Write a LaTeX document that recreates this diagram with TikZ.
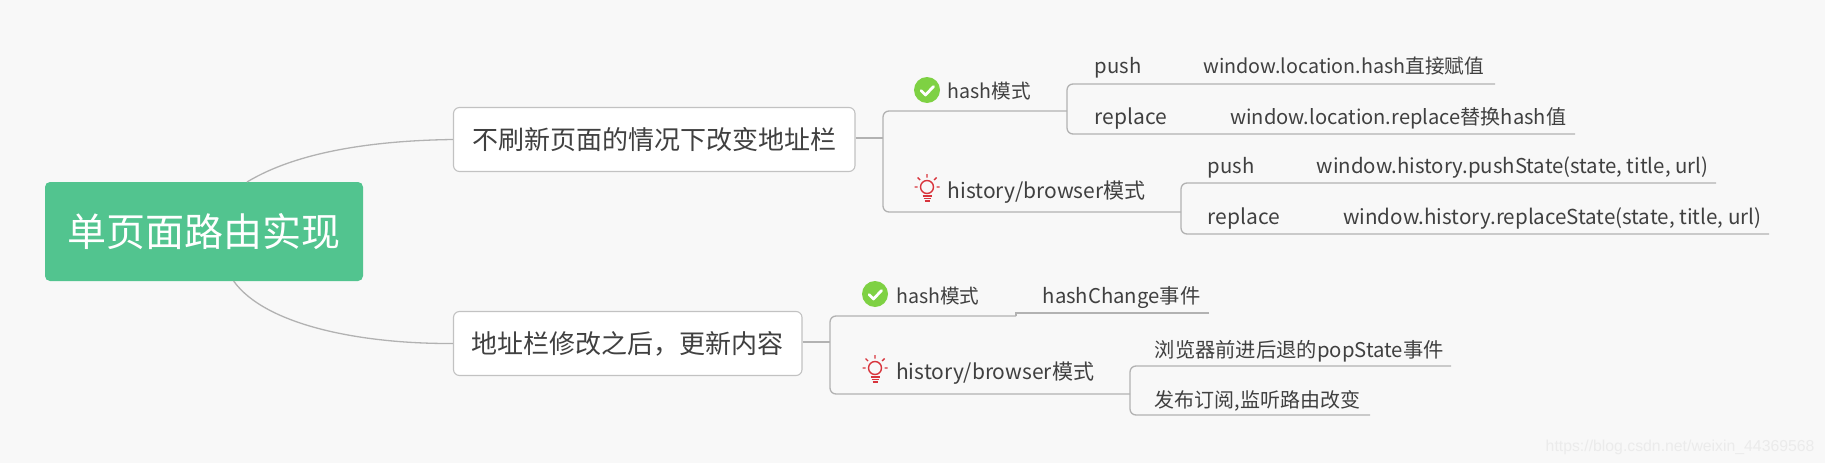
\documentclass[tikz,border=0pt]{standalone}
\usepackage{fontspec}
\setmainfont{Noto Sans CJK SC}
\newfontfamily\wmfont{Liberation Sans}
\definecolor{bgc}{HTML}{F8F8F8}
\definecolor{linec}{HTML}{B2B2B2}
\definecolor{boxc}{HTML}{C2C2C2}
\definecolor{rootc}{HTML}{52C48F}
\definecolor{txtc}{HTML}{404040}
\definecolor{okc}{HTML}{7ED143}
\definecolor{bulbc}{HTML}{D8343C}
\definecolor{wmc}{HTML}{EBEBEB}
\tikzset{
  rootbox/.style={fill=rootc,rounded corners=5pt,inner sep=0pt,text=white,font=\fontsize{39}{44}\selectfont},
  topicbox/.style={draw=boxc,line width=1.1pt,fill=white,rounded corners=6pt,inner sep=0pt,text=txtc,font=\fontsize{26}{30}\selectfont},
  lbl/.style={anchor=base west,inner sep=0pt,text=txtc,font=\fontsize{#1}{24}\selectfont},
  lbl/.default=20,
  conn/.style={draw=linec,line width=1.3pt},
  bracket/.style={conn,rounded corners=6pt},
  okicon/.pic={
    \fill[okc] (0,0) circle (13);
    \draw[white,line width=2.8pt,line cap=round,line join=round] (-6,0.5) -- (-1.5,5) -- (6.5,-3.5);
  },
  bulbicon/.pic={
    \draw[bulbc,line width=1.4pt] (0,0) circle (6.5);
    \draw[bulbc,line width=1.4pt] (0,-9.5) -- (0,-13) (-7,-7) -- (-9.5,-9.5) (7,-7) -- (9.5,-9.5) (-9.5,0) -- (-12.5,0) (9.5,0) -- (12.5,0);
    \draw[bulbc,line width=1.3pt] (-4.5,9) -- (4.5,9) (-3.5,11.5) -- (3.5,11.5) (-2.5,14) -- (2.5,14);
  }
}
\begin{document}
\begin{tikzpicture}[x=1pt,y=-1pt]
\useasboundingbox (0,0) rectangle (1825,463);
\fill[bgc] (0,0) rectangle (1825,463);
\clip (0,0) rectangle (1825,463);

\node[anchor=base west,inner sep=0pt,text=wmc,font=\wmfont\fontsize{15.8}{18}\selectfont] (wm) at (1545.5,451) {https://blog.csdn.net/weixin\_44369568};

\node[rootbox,minimum width=318pt,minimum height=99pt] (root) at (204,231.5) {单页面路由实现};
\node[topicbox,minimum width=401.5pt,minimum height=64pt] (t1) at (654.25,139.5) {不刷新页面的情况下改变地址栏};
\node[topicbox,minimum width=348.5pt,minimum height=64pt] (t2) at (627.75,343.5) {地址栏修改之后，更新内容};

\coordinate (rt) at (247,182);
\coordinate (rb) at (233.6,281);
\draw[conn] (rt) .. controls (300,150) and (380,140.5) .. (t1.west);
\draw[conn] (rb) .. controls (265,325) and (360,344) .. (t2.west);

% upper branch
\coordinate (a0) at (883,138);
\coordinate (a1) at (883,111);
\coordinate (a2) at (883,212);
\coordinate (h1) at (1067,111);
\coordinate (h2) at (1181,212);
\draw[conn] (t1.east |- a0) -- (a0);
\draw[bracket] (h1) -- (a1) -- (a2) -- (h2);

\pic at (927,90) {okicon};
\node[lbl=19.6] (n1) at (947.5,98) {hash模式};
\pic at (927,187) {bulbicon};
\node[lbl=21] (n2) at (947.5,198) {history/browser模式};

\coordinate (h1t) at (1067,84);
\coordinate (h1b) at (1067,134);
\coordinate (e1) at (1495,84);
\coordinate (e2) at (1575,134);
\draw[bracket] (e1) -- (h1t) -- (h1b) -- (e2);
\node[lbl=20.3] (p1) at (1094.5,73.5) {push};
\node[lbl=19.7] (p1v) at (1203,73.5) {window.location.hash直接赋值};
\node[lbl=21] (r1) at (1094.5,124.5) {replace};
\node[lbl=20.1] (r1v) at (1230,124.5) {window.location.replace替换hash值};

\coordinate (h2t) at (1181,183);
\coordinate (h2b) at (1181,234);
\coordinate (e3) at (1716,183);
\coordinate (e4) at (1769,234);
\draw[bracket] (e3) -- (h2t) -- (h2b) -- (e4);
\node[lbl=20.3] (p2) at (1207.5,173.5) {push};
\node[lbl=20.4] (p2v) at (1316.5,173.5) {window.history.pushState(state, title, url)};
\node[lbl=21] (r2) at (1207.5,224.5) {replace};
\node[lbl=20.6] (r2v) at (1343,224.5) {window.history.replaceState(state, title, url)};

% lower branch
\coordinate (b0) at (830,342);
\coordinate (b1) at (830,316);
\coordinate (b2) at (830,394);
\coordinate (k1) at (1016,316);
\coordinate (k1u) at (1016,313);
\coordinate (e5) at (1209,313);
\coordinate (k2) at (1130,394);
\draw[conn] (t2.east |- b0) -- (b0);
\draw[conn] (e5) -- (k1u) -- (k1);
\draw[bracket] (k1) -- (b1) -- (b2) -- (k2);

\pic at (875,294) {okicon};
\node[lbl=19.6] (n3) at (896,303) {hash模式};
\node[lbl=20.3] (n3v) at (1042.5,303) {hashChange事件};
\pic at (875,368) {bulbicon};
\node[lbl=21] (n4) at (896,379) {history/browser模式};

\coordinate (k2t) at (1130,366);
\coordinate (k2b) at (1130,415);
\coordinate (e6) at (1451,366);
\coordinate (e7) at (1370,415);
\draw[bracket] (e6) -- (k2t) -- (k2b) -- (e7);
\node[lbl=20.3] (s1) at (1154.5,357.5) {浏览器前进后退的popState事件};
\node[lbl] (s2) at (1154.5,407.5) {发布订阅,监听路由改变};
\end{tikzpicture}
\end{document}
